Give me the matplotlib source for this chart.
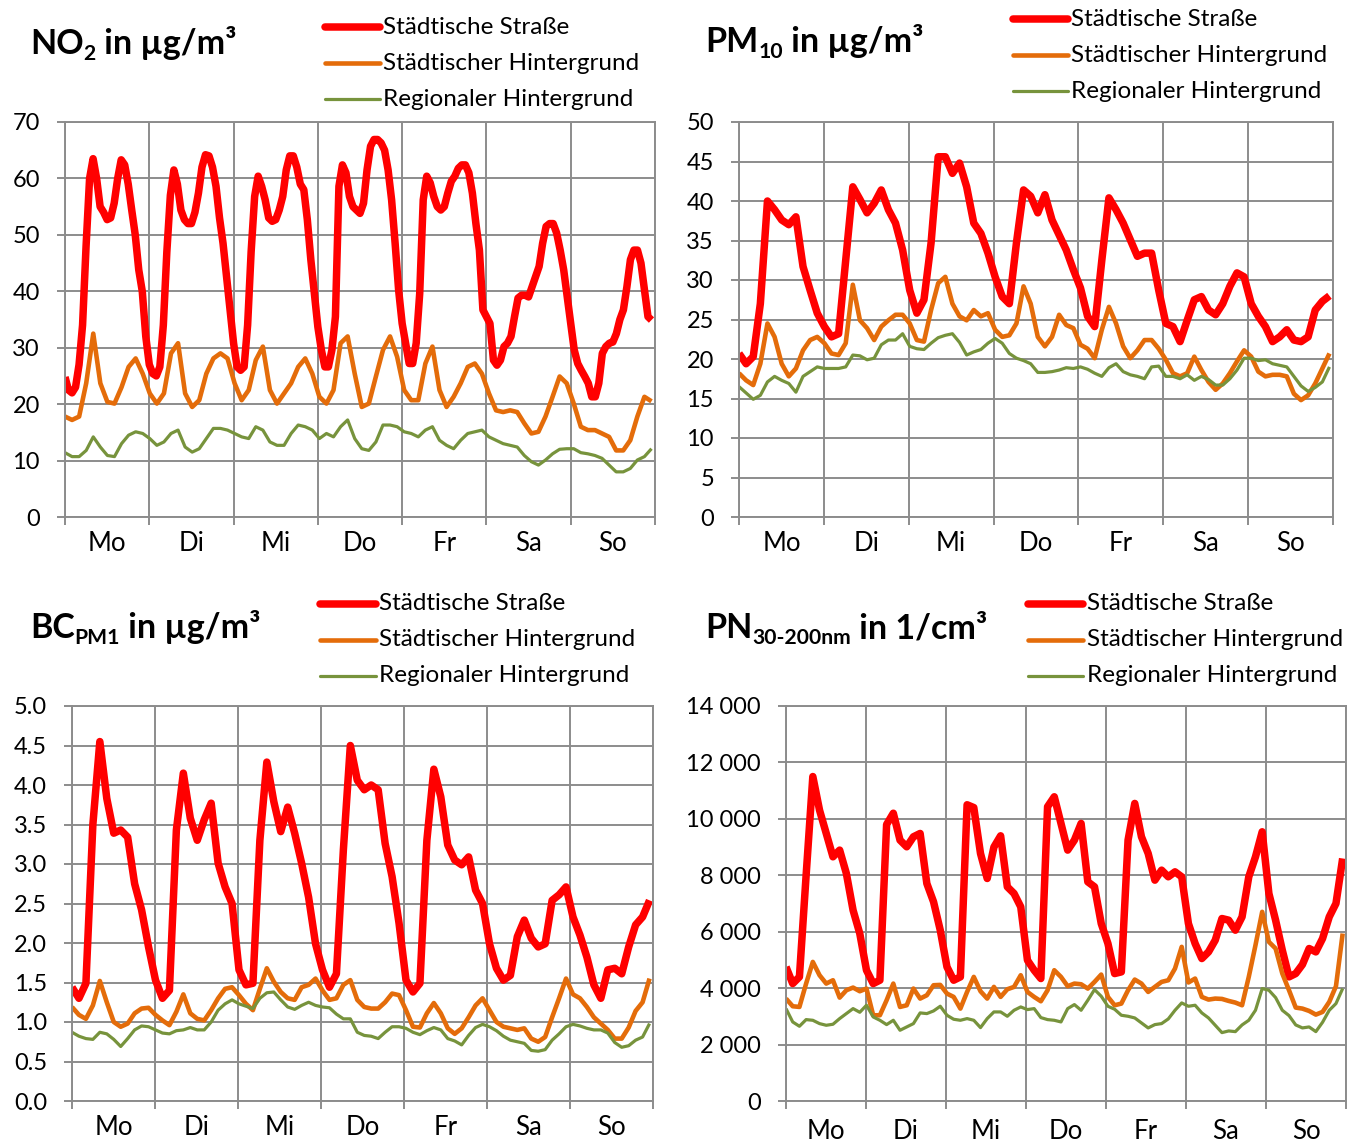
import numpy as np
import matplotlib.pyplot as plt
from matplotlib.lines import Line2D

plt.rcParams['font.family'] = ['Lato', 'DejaVu Sans']

W, H = 1360, 1142
GRID = '#8c8c8c'
COLORS = ['#ff0000', '#e46c0a', '#77933c']
WIDTHS = [5.4, 3.3, 2.3]

days = ["Mo", "Di", "Mi", "Do", "Fr", "Sa", "So"]
labels = ["Städtische Straße", "Städtischer Hintergrund", "Regionaler Hintergrund"]

# NO2, street hourly, backgrounds every 2 h (Mon 0h .. Sun 23h)
no2_street = [
    24.8, 22.5, 22.0, 23.0, 27.0, 34.0, 48.0, 60.0, 63.5, 60.0, 55.0, 54.0,
    52.7, 53.0, 55.6, 60.0, 63.3, 62.4, 59.0, 54.4, 50.0, 43.8, 40.0, 32.0,
    27.0, 25.4, 25.0, 26.6, 34.0, 47.0, 57.0, 61.5, 59.0, 54.4, 52.7, 52.0,
    52.0, 54.0, 57.4, 62.0, 64.2, 64.0, 62.0, 58.6, 53.0, 48.5, 42.6, 36.7,
    30.8, 26.6, 26.0, 26.6, 34.0, 47.0, 56.8, 60.4, 58.6, 56.2, 53.0, 52.4,
    52.7, 54.4, 56.8, 61.5, 64.0, 64.0, 62.0, 59.0, 58.0, 52.7, 45.6, 39.6,
    33.7, 29.6, 26.6, 26.6, 29.6, 35.5, 58.6, 62.4, 61.0, 56.8, 55.0, 54.4,
    53.8, 55.6, 61.5, 65.7, 66.9, 66.9, 66.3, 65.0, 61.5, 56.2, 48.5, 40.2,
    34.3, 30.8, 27.2, 27.2, 30.8, 39.6, 56.2, 60.4, 59.2, 56.8, 55.0, 54.4,
    55.0, 57.4, 59.5, 60.4, 61.8, 62.4, 62.4, 61.0, 57.4, 52.0, 47.3, 36.7,
    35.5, 34.3, 27.8, 26.9, 27.8, 30.2, 30.8, 32.0, 35.5, 38.8, 39.3, 39.3,
    39.0, 40.8, 42.6, 44.4, 48.5, 51.5, 52.0, 52.0, 50.3, 47.3, 43.8, 39.0,
    34.3, 29.6, 27.2, 26.0, 24.9, 23.7, 21.3, 21.3, 23.7, 29.0, 30.2, 30.8,
    31.0, 32.5, 35.0, 36.7, 40.8, 45.6, 47.3, 47.3, 45.0, 40.2, 35.5, 34.9,
]
no2_urban = [
    17.8, 17.2, 17.8, 23.7, 32.5, 23.7, 20.4, 20.1, 23.0, 26.6, 28.1, 25.4,
    21.9, 20.1, 21.9, 29.0, 30.8, 21.9, 19.5, 20.7, 25.4, 28.1, 29.0, 28.1,
    23.7, 20.7, 22.5, 27.8, 30.2, 22.5, 20.1, 21.9, 23.7, 26.6, 28.1, 25.4,
    21.3, 20.1, 22.5, 30.8, 32.0, 25.4, 19.5, 20.1, 24.9, 29.6, 32.0, 28.4,
    22.5, 20.7, 20.7, 27.2, 30.2, 22.5, 19.5, 21.3, 23.7, 26.6, 27.2, 25.4,
    21.9, 18.9, 18.6, 18.9, 18.6, 16.6, 14.8, 15.1, 17.8, 21.3, 24.9, 23.7,
    20.1, 16.0, 15.4, 15.4, 14.8, 14.2, 11.8, 11.8, 13.6, 17.8, 21.3, 20.5,
]
no2_regional = [
    11.4, 10.7, 10.7, 11.8, 14.2, 12.4, 10.9, 10.7, 13.0, 14.5, 15.1, 14.8,
    13.9, 12.7, 13.3, 14.8, 15.4, 12.4, 11.5, 12.1, 13.9, 15.7, 15.7, 15.4,
    14.8, 14.2, 13.9, 16.0, 15.4, 13.3, 12.7, 12.7, 14.8, 16.3, 16.0, 15.4,
    13.9, 14.8, 14.2, 16.0, 17.2, 13.9, 12.1, 11.8, 13.3, 16.3, 16.3, 16.0,
    15.1, 14.8, 14.2, 15.4, 16.0, 13.6, 12.7, 12.1, 13.6, 14.8, 15.1, 15.4,
    14.2, 13.6, 13.0, 12.7, 12.4, 10.9, 9.8, 9.2, 10.1, 11.2, 12.0, 12.1,
    12.1, 11.4, 11.2, 10.9, 10.4, 9.2, 8.0, 8.0, 8.6, 10.1, 10.7, 12.1,
]

pm10_street = [
    20.7, 19.4, 20.3, 27.0, 40.0, 38.9, 37.6, 37.0, 38.0, 31.7, 28.7, 25.8,
    24.1, 22.8, 23.2, 32.5, 41.8, 40.2, 38.5, 39.7, 41.4, 38.9, 37.2, 33.8,
    28.7, 25.8, 27.5, 34.7, 45.6, 45.6, 43.5, 44.8, 41.8, 37.2, 35.9, 33.4,
    30.4, 27.9, 27.0, 34.7, 41.4, 40.6, 38.5, 40.8, 37.6, 35.7, 33.8, 31.3,
    29.0, 25.4, 24.1, 32.5, 40.4, 38.9, 37.2, 35.1, 33.0, 33.4, 33.4, 28.7,
    24.5, 24.1, 22.2, 24.9, 27.5, 27.9, 26.2, 25.6, 27.0, 29.2, 30.9, 30.4,
    27.0, 25.4, 24.1, 22.2, 22.8, 23.7, 22.4, 22.2, 22.8, 26.2, 27.3, 28.0,
]
pm10_urban = [
    18.2, 17.3, 16.7, 19.4, 24.5, 22.8, 19.4, 17.8, 18.8, 21.1, 22.4, 22.8,
    22.0, 20.7, 20.5, 22.0, 29.4, 24.9, 23.9, 22.4, 24.1, 24.9, 25.6, 25.6,
    24.5, 22.4, 22.2, 26.2, 29.6, 30.4, 27.0, 25.4, 24.9, 26.2, 25.4, 25.8,
    23.7, 22.8, 23.0, 24.5, 29.2, 27.0, 22.8, 21.6, 22.8, 25.6, 24.3, 23.9,
    21.8, 21.3, 20.1, 23.7, 26.6, 24.5, 21.6, 20.1, 21.1, 22.4, 22.4, 21.3,
    19.9, 18.2, 17.8, 18.2, 20.3, 18.6, 17.1, 16.1, 16.9, 18.2, 19.7, 21.1,
    20.3, 18.4, 17.8, 18.0, 18.0, 17.8, 15.6, 14.8, 15.4, 16.9, 18.8, 20.7,
]
pm10_regional = [
    16.5, 15.7, 14.9, 15.4, 17.1, 17.8, 17.3, 16.9, 15.8, 17.8, 18.4, 19.0,
    18.8, 18.8, 18.8, 19.0, 20.5, 20.4, 19.9, 20.1, 21.8, 22.4, 22.4, 23.2,
    21.6, 21.3, 21.2, 22.0, 22.7, 23.0, 23.2, 22.1, 20.5, 20.9, 21.2, 22.0,
    22.6, 22.0, 20.7, 20.1, 19.8, 19.4, 18.3, 18.3, 18.4, 18.6, 18.9, 18.8,
    19.0, 18.7, 18.2, 17.8, 18.9, 19.4, 18.4, 18.0, 17.8, 17.5, 19.0, 19.1,
    17.8, 17.8, 17.5, 18.0, 17.3, 17.8, 17.4, 16.7, 16.7, 17.5, 18.6, 20.1,
    20.1, 19.8, 19.9, 19.4, 19.2, 19.0, 17.8, 16.6, 15.9, 16.4, 17.1, 19.0,
]

bc_street = [
    1.44, 1.30, 1.49, 3.50, 4.55, 3.83, 3.39, 3.43, 3.34, 2.75, 2.42, 1.95,
    1.53, 1.30, 1.40, 3.43, 4.15, 3.58, 3.30, 3.56, 3.77, 3.01, 2.71, 2.50,
    1.66, 1.47, 1.49, 3.30, 4.29, 3.79, 3.41, 3.72, 3.39, 3.01, 2.58, 1.99,
    1.66, 1.44, 1.61, 3.18, 4.50, 4.06, 3.94, 4.00, 3.94, 3.26, 2.84, 2.25,
    1.53, 1.38, 1.49, 3.30, 4.20, 3.85, 3.24, 3.05, 2.99, 3.09, 2.67, 2.50,
    1.99, 1.68, 1.53, 1.59, 2.08, 2.29, 2.06, 1.95, 1.99, 2.54, 2.61, 2.71,
    2.33, 2.10, 1.82, 1.47, 1.30, 1.66, 1.68, 1.61, 1.95, 2.23, 2.33, 2.54,
]
bc_urban = [
    1.19, 1.09, 1.04, 1.21, 1.52, 1.25, 1.00, 0.94, 0.98, 1.11, 1.17, 1.18,
    1.09, 1.02, 0.96, 1.13, 1.35, 1.11, 1.04, 1.02, 1.15, 1.30, 1.42, 1.44,
    1.34, 1.23, 1.15, 1.42, 1.68, 1.51, 1.38, 1.30, 1.28, 1.44, 1.47, 1.55,
    1.40, 1.28, 1.30, 1.47, 1.53, 1.28, 1.19, 1.17, 1.17, 1.25, 1.36, 1.34,
    1.15, 0.94, 0.93, 1.11, 1.24, 1.11, 0.92, 0.85, 0.92, 1.06, 1.21, 1.30,
    1.15, 1.00, 0.94, 0.92, 0.90, 0.92, 0.79, 0.75, 0.81, 1.06, 1.30, 1.55,
    1.35, 1.30, 1.19, 1.06, 0.98, 0.90, 0.79, 0.79, 0.93, 1.14, 1.25, 1.55,
]
bc_regional = [
    0.87, 0.82, 0.79, 0.78, 0.87, 0.85, 0.78, 0.69, 0.79, 0.90, 0.95, 0.94,
    0.90, 0.86, 0.85, 0.89, 0.90, 0.93, 0.90, 0.90, 1.00, 1.15, 1.23, 1.28,
    1.23, 1.20, 1.17, 1.30, 1.37, 1.38, 1.28, 1.19, 1.16, 1.21, 1.25, 1.21,
    1.19, 1.18, 1.10, 1.04, 1.04, 0.87, 0.83, 0.82, 0.79, 0.87, 0.94, 0.94,
    0.92, 0.87, 0.84, 0.89, 0.93, 0.90, 0.79, 0.76, 0.71, 0.83, 0.93, 0.97,
    0.94, 0.89, 0.82, 0.77, 0.75, 0.73, 0.64, 0.63, 0.65, 0.77, 0.85, 0.94,
    0.97, 0.95, 0.92, 0.90, 0.90, 0.86, 0.74, 0.68, 0.70, 0.77, 0.81, 0.98,
]

pn_street = [
    4753, 4162, 4399, 8000, 11500, 10310, 9483, 8655, 8892, 8064, 6763, 5936,
    4635, 4162, 4281, 9800, 10200, 9246, 9010, 9365, 9483, 7709, 7059, 6054,
    4753, 4281, 4399, 10500, 10400, 8774, 7887, 9000, 9400, 7591, 7355, 6882,
    4990, 4635, 4340, 10430, 10783, 9838, 8892, 9246, 9838, 7768, 7591, 6290,
    5581, 4517, 4576, 9246, 10547, 9365, 8774, 7827, 8182, 7946, 8123, 7946,
    6290, 5581, 5049, 5285, 5699, 6468, 6409, 6054, 6527, 7946, 8655, 9542,
    7355, 6409, 5344, 4399, 4517, 4836, 5404, 5285, 5758, 6527, 7000, 8596,
]
pn_urban = [
    3630, 3358, 3334, 4162, 4930, 4458, 4162, 4280, 3665, 3926, 4020, 3890,
    3985, 3039, 3039, 3571, 4162, 3334, 3393, 3985, 3630, 3748, 4103, 4115,
    3807, 3689, 3275, 3866, 4399, 3890, 3630, 4044, 3689, 3961, 4044, 4458,
    3866, 3689, 3535, 3926, 4635, 4399, 4068, 4162, 4138, 3985, 4221, 4481,
    3689, 3393, 3453, 3926, 4304, 4162, 3866, 4044, 4221, 4280, 4694, 5463,
    4200, 4340, 3689, 3594, 3630, 3618, 3547, 3488, 3393, 4399, 5522, 6704,
    5640, 5404, 4517, 3926, 3311, 3275, 3192, 3062, 3157, 3512, 4068, 5936,
]
pn_regional = [
    3275, 2802, 2649, 2885, 2861, 2743, 2684, 2720, 2921, 3098, 3275, 3145,
    3394, 2980, 2861, 2708, 2861, 2507, 2625, 2743, 3122, 3098, 3192, 3358,
    3039, 2897, 2861, 2921, 2861, 2601, 2921, 3157, 3157, 3003, 3216, 3334,
    3240, 3275, 2956, 2885, 2861, 2802, 3275, 3417, 3216, 3571, 3949, 3713,
    3358, 3252, 3039, 3003, 2944, 2767, 2590, 2708, 2743, 2909, 3216, 3476,
    3358, 3394, 3122, 2944, 2684, 2424, 2483, 2459, 2696, 2861, 3216, 3985,
    3926, 3665, 3216, 3027, 2696, 2590, 2625, 2459, 2790, 3216, 3453, 3985,
]

no2_ticks = [0, 10, 20, 30, 40, 50, 60, 70]
no2_ticklabels = ["0", "10", "20", "30", "40", "50", "60", "70"]
pm10_ticks = [0, 5, 10, 15, 20, 25, 30, 35, 40, 45, 50]
pm10_ticklabels = ["0", "5", "10", "15", "20", "25", "30", "35", "40", "45", "50"]
bc_ticks = [0.0, 0.5, 1.0, 1.5, 2.0, 2.5, 3.0, 3.5, 4.0, 4.5, 5.0]
bc_ticklabels = ["0.0", "0.5", "1.0", "1.5", "2.0", "2.5", "3.0", "3.5", "4.0", "4.5", "5.0"]
pn_ticks = [0, 2000, 4000, 6000, 8000, 10000, 12000, 14000]
pn_ticklabels = ["0", "2 000", "4 000", "6 000", "8 000", "10 000", "12 000", "14 000"]

fig = plt.figure(figsize=(W / 100, H / 100), dpi=100)


def panel(box, series, ticks, ticklabels, xpad=10):
    left, top, right, bottom = box
    ax = fig.add_axes([left / W, 1 - bottom / H, (right - left) / W, (bottom - top) / H])
    for vals, c, lw in zip(series, COLORS, WIDTHS):
        ax.plot(np.linspace(0, 167, len(vals)), vals, color=c, lw=lw,
                solid_joinstyle='round', solid_capstyle='butt')
    ax.set_xlim(0, 168)
    ax.set_ylim(ticks[0], ticks[-1])
    ax.set_xticks(range(0, 169, 24))
    ax.set_xticklabels([])
    ax.set_xticks(range(12, 168, 24), minor=True)
    ax.set_xticklabels(days, minor=True)
    ax.set_yticks(ticks)
    ax.set_yticklabels(ticklabels)
    ax.grid(True, which='major', color=GRID, lw=1.4)
    ax.set_axisbelow(True)
    ax.tick_params(which='major', length=6, width=1.4, color=GRID, labelsize=17, pad=12)
    ax.tick_params(axis='x', which='minor', length=0, labelsize=18.5, pad=xpad)
    for s in ax.spines.values():
        s.set_color(GRID)
        s.set_linewidth(1.4)
    return ax


def title(ax, x, y, main, sub, rest, size=24.5):
    t1 = ax.annotate(main, xy=(x, H - y), xycoords='figure pixels',
                     fontsize=size, fontweight='bold', va='baseline')
    t2 = ax.annotate(sub, xy=(1, H - y - 6), xycoords=(t1, 'figure pixels'),
                     fontsize=size * 0.62, fontweight='bold', va='baseline')
    ax.annotate(rest, xy=(1, H - y), xycoords=(t2, 'figure pixels'),
                fontsize=size, fontweight='bold', va='baseline')


def legend(x0, x1, xt, ys):
    for y, name, c, lw in zip(ys, labels, COLORS, WIDTHS):
        fig.add_artist(Line2D([x0 / W, x1 / W], [1 - y / H] * 2, color=c, lw=lw,
                              solid_capstyle='round'))
        fig.text(xt / W, 1 - y / H, name, fontsize=17.5, va='center')


ax1 = panel((65, 122, 655, 517), [no2_street, no2_urban, no2_regional], no2_ticks, no2_ticklabels)
title(ax1, 30, 54, "NO", "2", " in µg/m³")
legend(325, 380, 383, [27, 63, 99])

ax2 = panel((739, 122, 1333, 517), [pm10_street, pm10_urban, pm10_regional], pm10_ticks, pm10_ticklabels)
title(ax2, 705, 52, "PM", "10", " in µg/m³")
legend(1013, 1068, 1071, [19, 55, 91])

ax3 = panel((72, 706, 653, 1101), [bc_street, bc_urban, bc_regional], bc_ticks, bc_ticklabels)
title(ax3, 30, 638, "BC", "PM1", " in µg/m³")
legend(320, 376, 379, [604, 640, 676])

ax4 = panel((786, 706, 1346, 1101), [pn_street, pn_urban, pn_regional], pn_ticks, pn_ticklabels, xpad=13)
title(ax4, 705, 638, "PN", "30-200nm", " in 1/cm³")
legend(1028, 1083, 1087, [604, 640, 676])

fig.savefig("out.png", dpi=100)
